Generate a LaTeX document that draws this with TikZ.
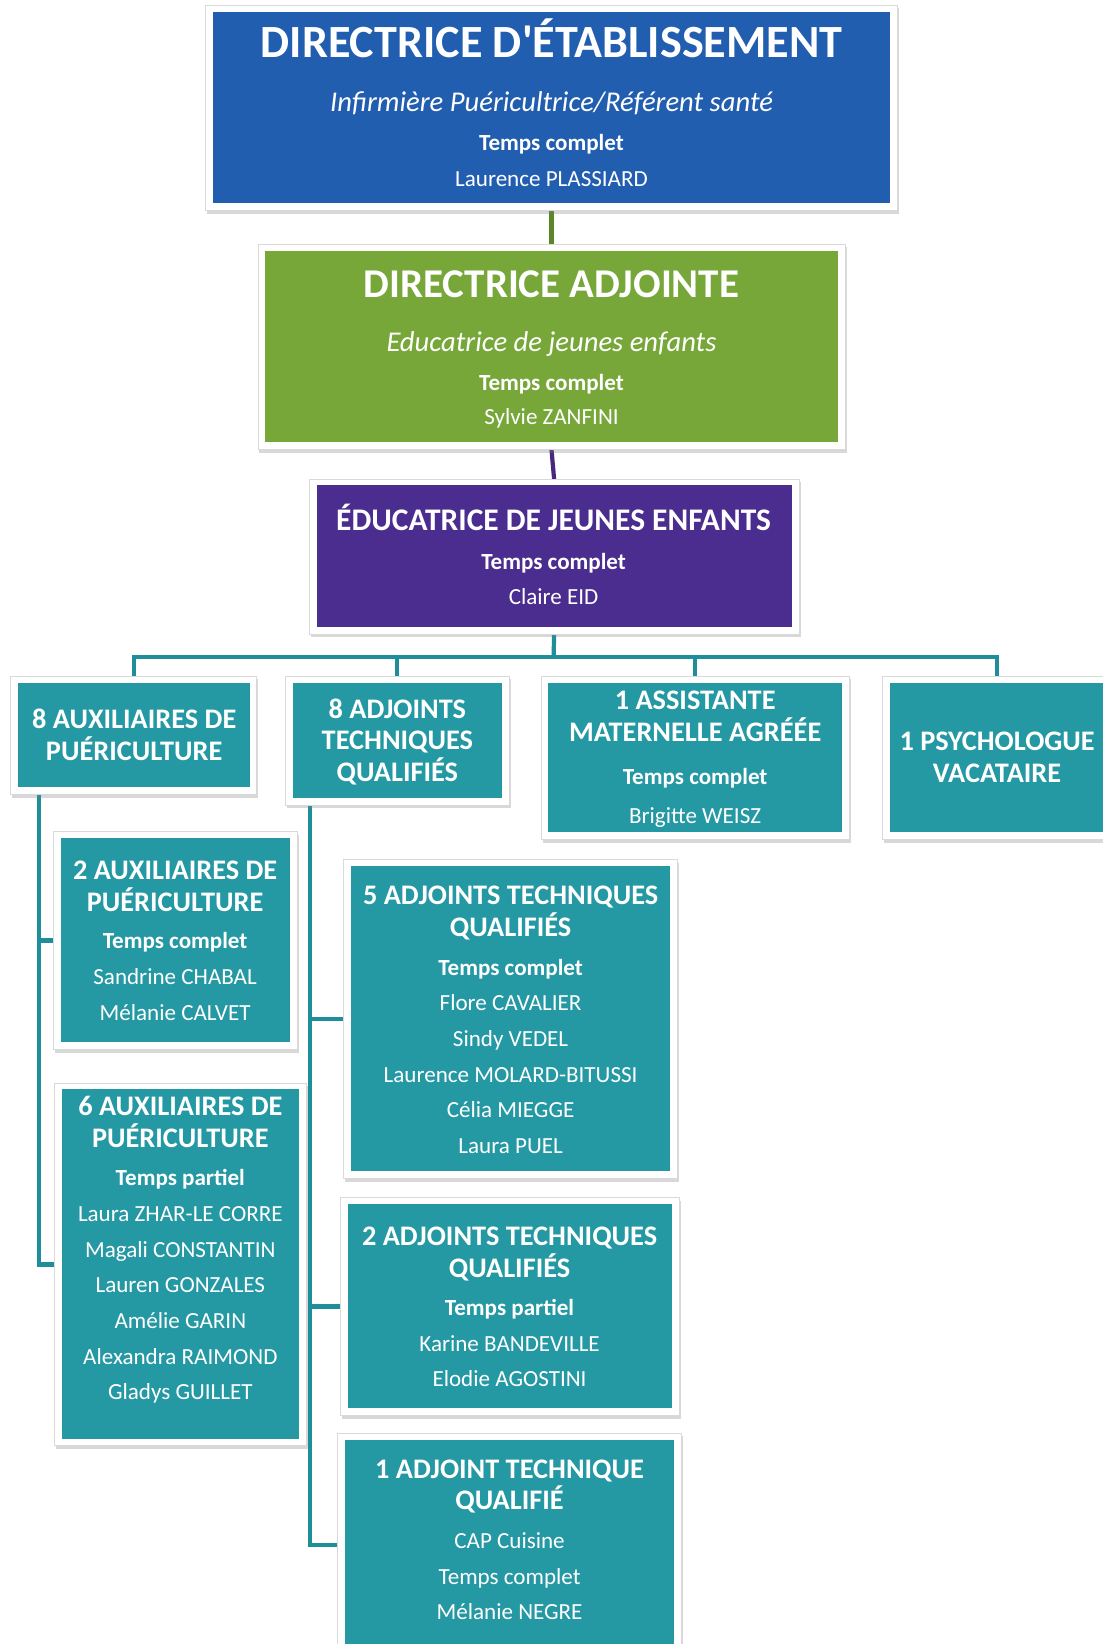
\documentclass[tikz,border=0pt]{standalone}
\usepackage{fontspec}
\setmainfont{Carlito}
\usetikzlibrary{shadows}
\definecolor{blueC}{RGB}{34,94,176}
\definecolor{greenC}{RGB}{119,166,57}
\definecolor{purpleC}{RGB}{74,45,142}
\definecolor{tealC}{RGB}{36,152,163}
\definecolor{greenL}{RGB}{92,132,40}
\definecolor{purpleL}{RGB}{70,40,125}
\definecolor{tealL}{RGB}{30,142,154}
\tikzset{
  frame/.style={draw=gray!30, fill=white, line width=0.8pt, inner sep=0pt, outer sep=0pt,
    drop shadow={shadow xshift=1.5pt, shadow yshift=-3pt, opacity=0.3}},
  tl/.style={anchor=base, inner sep=0pt, text=white, font=\fontsize{27}{30}\selectfont\bfseries},
  bd/.style={anchor=base, inner sep=0pt, text=white, font=\fontsize{22}{26}\selectfont},
  bdb/.style={anchor=base, inner sep=0pt, text=white, font=\fontsize{22}{26}\selectfont\bfseries},
  itl/.style={anchor=base, inner sep=0pt, text=white, font=\fontsize{27.3}{32}\selectfont\itshape},
  conn/.style={line width=4pt, draw=tealL},
}
\newcommand\Tx[5]{\node[#1] (#2) at (#3,#4) {#5};}
\begin{document}
\begin{tikzpicture}[x=1pt,y=-1pt]
\useasboundingbox (0,0) rectangle (1052,1568);
\clip (0,0) rectangle (1052,1568);
\fill[white] (0,0) rectangle (1052,1568);

% frames positions (coordinates only for connectors drawn first)
\path (526,103) node[minimum width=660, minimum height=196, inner sep=0pt, outer sep=0pt] (f1) {};
\path (526,331) node[minimum width=560, minimum height=196, inner sep=0pt, outer sep=0pt] (f2) {};
\path (528.5,531) node[minimum width=467, minimum height=148, inner sep=0pt, outer sep=0pt] (f3) {};
\path (127.5,701.5) node[minimum width=235, minimum height=113, inner sep=0pt, outer sep=0pt] (f4) {};
\path (379,706.5) node[minimum width=214, minimum height=123, inner sep=0pt, outer sep=0pt] (f5) {};
\path (663,723) node[minimum width=294, minimum height=156, inner sep=0pt, outer sep=0pt] (f6) {};
\path (951,723) node[minimum width=218, minimum height=156, inner sep=0pt, outer sep=0pt] (f7) {};
\path (167.5,897) node[minimum width=233, minimum height=208, inner sep=0pt, outer sep=0pt] (f8) {};
\path (172,1206) node[minimum width=240, minimum height=346, inner sep=0pt, outer sep=0pt] (f9) {};
\path (487,972) node[minimum width=318, minimum height=304, inner sep=0pt, outer sep=0pt] (f10) {};
\path (486.5,1246) node[minimum width=323, minimum height=208, inner sep=0pt, outer sep=0pt] (f11) {};
\path (486,1473.5) node[minimum width=328, minimum height=213, inner sep=0pt, outer sep=0pt] (f12) {};

% connectors
\draw[line width=4pt, draw=greenL] (f1.south) -- (f2.north);
\draw[line width=4pt, draw=purpleL] (f2.south) -- (f3.north);
\coordinate (bus) at (528,627);
\draw[conn] (f3.south) -- (bus);
\draw[conn] (f4.north) |- (bus);
\draw[conn] (f5.north) |- (bus);
\draw[conn] (f6.north) |- (bus);
\draw[conn] (f7.north) |- (bus);
\coordinate (lv) at ([xshift=27pt]f4.south west);
\coordinate (rv) at ([xshift=24pt]f5.south west);
\draw[conn] (lv) |- (f8.west);
\draw[conn] (lv) |- (f9.west);
\draw[conn] (rv) |- (f10.west);
\draw[conn] (rv) |- (f11.west);
\draw[conn] (rv) |- (f12.west);

% visible frames and fills
\foreach \f/\c in {f1/blueC,f2/greenC,f3/purpleC,f4/tealC,f5/tealC,f6/tealC,f7/tealC,f8/tealC,f9/tealC,f10/tealC,f11/tealC,f12/tealC}{
  \path[frame] (\f.north west) rectangle (\f.south east);
  \fill[\c] ([shift={(7,6)}]\f.north west) rectangle ([shift={(-7,-7)}]\f.south east);
}

% Box 1
\Tx{tl, font=\fontsize{44}{50}\selectfont\bfseries}{t1a}{526}{55}{DIRECTRICE D\textquotesingle ÉTABLISSEMENT}
\Tx{itl}{t1b}{526}{106}{Infirmière Puéricultrice/Référent santé}
\Tx{bdb}{t1c}{526}{144}{Temps complet}
\Tx{bd}{t1d}{526}{178}{Laurence PLASSIARD}
% Box 2
\Tx{tl, font=\fontsize{39}{45}\selectfont\bfseries}{t2a}{526}{284}{DIRECTRICE ADJOINTE}
\Tx{itl}{t2b}{526}{335}{Educatrice de jeunes enfants}
\Tx{bdb}{t2c}{526}{372}{Temps complet}
\Tx{bd}{t2d}{526}{405}{Sylvie ZANFINI}
% Box 3
\Tx{tl, font=\fontsize{30}{34}\selectfont\bfseries}{t3a}{528}{506}{ÉDUCATRICE DE JEUNES ENFANTS}
\Tx{bdb}{t3b}{528}{543}{Temps complet}
\Tx{bd}{t3c}{528}{577}{Claire EID}
% Box 4
\Tx{tl}{t4a}{128}{695}{8 AUXILIAIRES DE}
\Tx{tl}{t4b}{128}{725}{PUÉRICULTURE}
% Box 5
\Tx{tl}{t5a}{379}{685}{8 ADJOINTS}
\Tx{tl}{t5b}{379}{715}{TECHNIQUES}
\Tx{tl}{t5c}{379}{745}{QUALIFIÉS}
% Box 6
\Tx{tl}{t6a}{663}{677}{1 ASSISTANTE}
\Tx{tl}{t6b}{663}{707}{MATERNELLE AGRÉÉE}
\Tx{bdb}{t6c}{663}{748}{Temps complet}
\Tx{bd}{t6d}{663}{785}{Brigitte WEISZ}
% Box 7
\Tx{tl}{t7a}{951}{716}{1 PSYCHOLOGUE}
\Tx{tl}{t7b}{951}{746}{VACATAIRE}
% Box 8
\Tx{tl}{t8a}{167}{839}{2 AUXILIAIRES DE}
\Tx{tl}{t8b}{167}{869}{PUÉRICULTURE}
\Tx{bdb}{t8c}{167}{905}{Temps complet}
\Tx{bd}{t8d}{167}{939}{Sandrine CHABAL}
\Tx{bd}{t8e}{167}{973}{Mélanie CALVET}
% Box 9
\Tx{tl}{t9a}{172}{1064}{6 AUXILIAIRES DE}
\Tx{tl}{t9b}{172}{1094}{PUÉRICULTURE}
\Tx{bdb}{t9c}{172}{1131}{Temps partiel}
\Tx{bd}{t9d}{172}{1165}{Laura ZHAR-LE CORRE}
\Tx{bd}{t9e}{172}{1199}{Magali CONSTANTIN}
\Tx{bd}{t9f}{172}{1233}{Lauren GONZALES}
\Tx{bd}{t9g}{172}{1267}{Amélie GARIN}
\Tx{bd}{t9h}{172}{1301}{Alexandra RAIMOND}
\Tx{bd}{t9i}{172}{1335}{Gladys GUILLET}
% Box 10
\Tx{tl}{t10a}{487}{863}{5 ADJOINTS TECHNIQUES}
\Tx{tl}{t10b}{487}{893}{QUALIFIÉS}
\Tx{bdb}{t10c}{487}{930}{Temps complet}
\Tx{bd}{t10d}{487}{964}{Flore CAVALIER}
\Tx{bd}{t10e}{487}{998}{Sindy VEDEL}
\Tx{bd}{t10f}{487}{1032}{Laurence MOLARD-BITUSSI}
\Tx{bd}{t10g}{487}{1066}{Célia MIEGGE}
\Tx{bd}{t10h}{487}{1100}{Laura PUEL}
% Box 11
\Tx{tl}{t11a}{486}{1188}{2 ADJOINTS TECHNIQUES}
\Tx{tl}{t11b}{486}{1218}{QUALIFIÉS}
\Tx{bdb}{t11c}{486}{1255}{Temps partiel}
\Tx{bd}{t11d}{486}{1289}{Karine BANDEVILLE}
\Tx{bd}{t11e}{486}{1322}{Elodie AGOSTINI}
% Box 12
\Tx{tl}{t12a}{486}{1410}{1 ADJOINT TECHNIQUE}
\Tx{tl}{t12b}{486}{1440}{QUALIFIÉ}
\Tx{bd}{t12c}{486}{1477}{CAP Cuisine}
\Tx{bd}{t12d}{486}{1511}{Temps complet}
\Tx{bd}{t12e}{486}{1545}{Mélanie NEGRE}
\end{tikzpicture}
\end{document}
